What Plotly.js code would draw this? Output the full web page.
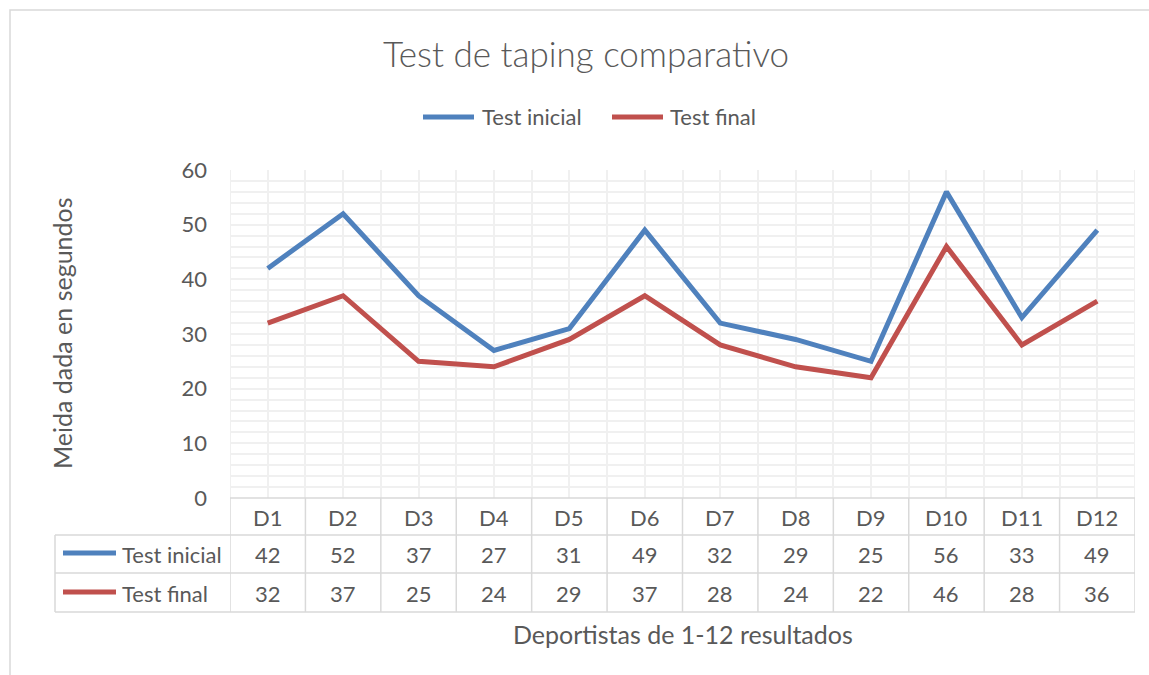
<!DOCTYPE html>
<html>
<head>
<meta charset="utf-8">
<script src="https://cdn.plot.ly/plotly-3.0.1.min.js"></script>
<style>html,body{margin:0;padding:0;background:#fff;}#chart{width:1149px;height:675px;}</style>
</head>
<body>
<div id="chart"></div>
<script>
const categories = ['D1','D2','D3','D4','D5','D6','D7','D8','D9','D10','D11','D12'];
const testInicial = [42,52,37,27,31,49,32,29,25,56,33,49];
const testFinal = [32,37,25,24,29,37,28,24,22,46,28,36];
const seriesNames = ['Test inicial','Test final'];
const seriesColors = ['#4f81bd','#c0504d'];
const yTicks = [0,10,20,30,40,50,60];
const chartTitle = 'Test de taping comparativo';
const xTitle = 'Deportistas de 1-12 resultados';
const yTitle = 'Meida dada en segundos';

const W = 1149, H = 675;
const M = {l:230, r:14, t:170, b:177};
const PW = W - M.l - M.r, PH = H - M.t - M.b;
const PB = H - M.b;
const xp = px => (px - M.l) / PW;
const yp = py => (PB - py) / PH;

const FONT = 'Lato, "Open Sans", sans-serif';
const TXT = '#595959';
const GRID = '#f0f0f0';
const TBL = '#d9d9d9';
const BODY = 22;

const series = [testInicial, testFinal];
const xIdx = categories.map((_, i) => i);

const traces = series.map((vals, s) => ({
  type: 'scatter', mode: 'lines', name: seriesNames[s],
  x: xIdx, y: vals,
  text: categories,
  line: {color: seriesColors[s], width: 5},
  hovertemplate: '%{text}: %{y}<extra>' + seriesNames[s] + '</extra>'
}));

const shapes = [];
const annotations = [];
const label = (o) => annotations.push(Object.assign({showarrow:false, xanchor:'center', yanchor:'middle',
  font:{family:FONT, size:BODY, color:TXT}}, o));

// chart frame
shapes.push({type:'rect', xref:'paper', yref:'paper', x0:xp(10), x1:xp(1166), y0:yp(10), y1:yp(700),
  line:{color:TBL, width:1.5}, layer:'below'});

// plot edge vertical gridlines
[-0.5, categories.length - 0.5].forEach(v => shapes.push({type:'line', xref:'x', yref:'paper',
  x0:v, x1:v, y0:0, y1:1, line:{color:GRID, width:2}, layer:'below'}));

// data table
const rowY = [535, 573, 612];
shapes.push({type:'line', xref:'x', yref:'paper', x0:-0.5, x1:categories.length-0.5, y0:0, y1:0,
  line:{color:TBL, width:1.5}});
rowY.forEach(py => shapes.push({type:'line', xref:'paper', yref:'paper', x0:xp(55), x1:1, y0:yp(py), y1:yp(py),
  line:{color:TBL, width:1.5}}));
shapes.push({type:'line', xref:'paper', yref:'paper', x0:xp(55), x1:xp(55), y0:yp(535), y1:yp(612),
  line:{color:TBL, width:1.5}});
for (let i = 0; i <= categories.length; i++) {
  shapes.push({type:'line', xref:'x', yref:'paper', x0:i-0.5, x1:i-0.5, y0:0, y1:yp(612),
    line:{color:TBL, width:1.5}});
}
categories.forEach((c, i) => label({xref:'x', yref:'paper', x:i, y:yp(517), text:c}));
const rowCenters = [554, 593];
series.forEach((vals, s) => {
  vals.forEach((v, i) => label({xref:'x', yref:'paper', x:i, y:yp(rowCenters[s]), text:String(v)}));
  shapes.push({type:'line', xref:'paper', yref:'paper', x0:xp(63), x1:xp(116), y0:yp(rowCenters[s]-1), y1:yp(rowCenters[s]-1),
    line:{color:seriesColors[s], width:5}});
  label({xref:'paper', yref:'paper', x:xp(120), y:yp(rowCenters[s]), xanchor:'left', text:seriesNames[s]});
});

// top legend
const legKeys = [[423, 474, 480], [612, 663, 668]];
seriesNames.forEach((n, s) => {
  shapes.push({type:'line', xref:'paper', yref:'paper', x0:xp(legKeys[s][0]), x1:xp(legKeys[s][1]), y0:yp(117), y1:yp(117),
    line:{color:seriesColors[s], width:5}});
  label({xref:'paper', yref:'paper', x:xp(legKeys[s][2]), y:yp(117), xanchor:'left', text:n});
});

// axis titles
label({xref:'paper', yref:'paper', x:xp(683), y:yp(634), text:xTitle, font:{family:FONT, size:25, color:TXT}});
label({xref:'paper', yref:'paper', x:xp(62), y:yp(333), text:yTitle, textangle:-90, font:{family:FONT, size:25, color:TXT}});

const layout = {
  width: W, height: H, margin: M,
  paper_bgcolor: '#fff', plot_bgcolor: '#fff',
  showlegend: false,
  title: {text: chartTitle, x: 586/W, xref:'container', xanchor:'center', y: 1 - 55/H, yref:'container', yanchor:'middle',
    font: {family: FONT, size: 35, color: TXT, weight: 300}},
  xaxis: {range: [-0.5, categories.length - 0.5], tickmode: 'linear', tick0: -0.5, dtick: 0.5,
    showticklabels: false, ticks: '', showgrid: true, gridcolor: GRID, gridwidth: 2, zeroline: false, showline: false, fixedrange: true},
  yaxis: {range: [0, 60], tickmode: 'array', tickvals: yTicks, ticktext: yTicks.map(String),
    ticks: '', ticklabelstandoff: 22, tickfont: {family: FONT, size: BODY, color: TXT},
    showgrid: true, gridcolor: GRID, gridwidth: 2, zeroline: false, showline: false, fixedrange: true,
    minor: {dtick: 2, tick0: 0, showgrid: true, gridcolor: GRID, gridwidth: 2, ticks: ''}},
  shapes: shapes,
  annotations: annotations
};

Plotly.newPlot('chart', traces, layout, {displayModeBar: false});
</script>
</body>
</html>
